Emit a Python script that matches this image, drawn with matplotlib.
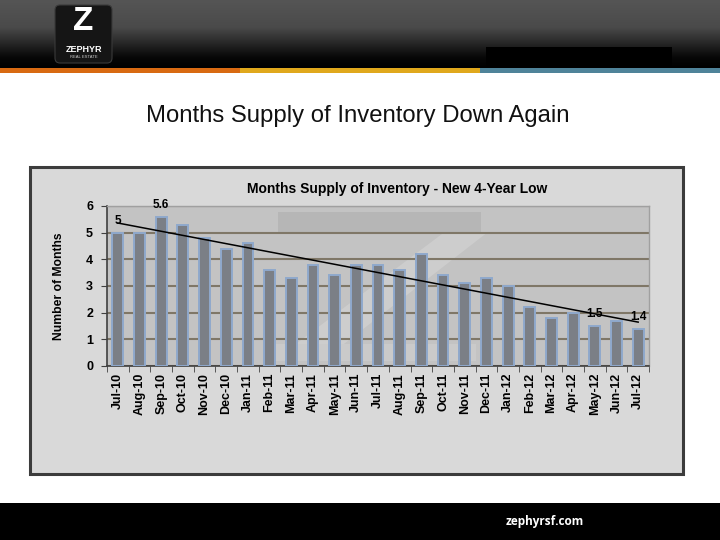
import numpy as np
import matplotlib
matplotlib.use("Agg")
import matplotlib.pyplot as plt
from matplotlib.patches import Rectangle, FancyBboxPatch, Polygon

# data
months = ['Jul-10', 'Aug-10', 'Sep-10', 'Oct-10', 'Nov-10', 'Dec-10', 'Jan-11',
          'Feb-11', 'Mar-11', 'Apr-11', 'May-11', 'Jun-11', 'Jul-11', 'Aug-11',
          'Sep-11', 'Oct-11', 'Nov-11', 'Dec-11', 'Jan-12', 'Feb-12', 'Mar-12',
          'Apr-12', 'May-12', 'Jun-12', 'Jul-12']
supply = [5.0, 5.0, 5.6, 5.3, 4.8, 4.4, 4.6, 3.6, 3.3, 3.8, 3.4, 3.8, 3.8,
          3.6, 4.2, 3.4, 3.1, 3.3, 3.0, 2.2, 1.8, 2.0, 1.5, 1.7, 1.4]
labelled = [0, 2, 22, 24]
yticks = [0, 1, 2, 3, 4, 5, 6]

plt.rcParams['font.family'] = ['Liberation Sans', 'DejaVu Sans']

fig = plt.figure(figsize=(7.2, 5.4), dpi=100)
fig.patch.set_facecolor('white')

# slide decoration, drawn in pixel coordinates
bg = fig.add_axes([0, 0, 1, 1])
bg.set_xlim(0, 720)
bg.set_ylim(540, 0)
bg.axis('off')

hdr_cmap = matplotlib.colors.LinearSegmentedColormap.from_list(
    'hdr', [(0, '#555555'), (0.4, '#4a4a4a'), (0.85, '#070707'), (1, '#000000')])
grad = np.linspace(0, 1, 100).reshape(-1, 1)
bg.imshow(grad, cmap=hdr_cmap, extent=[0, 720, 68, 0], aspect='auto', zorder=0)
bg.add_patch(Rectangle((0, 68), 240, 5, color='#d86a12', lw=0))
bg.add_patch(Rectangle((240, 68), 240, 5, color='#e0a81c', lw=0))
bg.add_patch(Rectangle((480, 68), 240, 5, color='#4f8399', lw=0))
bg.add_patch(Rectangle((486, 47), 186, 19, color='#000000', lw=0))

# logo
bg.add_patch(FancyBboxPatch((55, 5), 57, 58, boxstyle='round,pad=0,rounding_size=5',
                            facecolor='#151515', edgecolor='#3a3a3a', lw=0.8))
bg.text(83.5, 21, 'Z', color='white', fontsize=24, fontweight='bold',
        ha='center', va='center')
bg.text(83.5, 49, 'ZEPHYR', color='white', fontsize=6.5, fontweight='bold',
        ha='center', va='center')
bg.text(83.5, 57, 'REAL ESTATE', color='#cccccc', fontsize=3,
        ha='center', va='center')

bg.text(358, 116, 'Months Supply of Inventory Down Again', fontsize=17.2,
        ha='center', va='center', color='#111111')

# chart frame
bg.add_patch(Rectangle((30, 167), 653, 307, facecolor='#d9d9d9',
                       edgecolor='#3c3c3c', lw=2.2))
bg.text(397, 189, 'Months Supply of Inventory - New 4-Year Low', fontsize=10,
        fontweight='bold', ha='center', va='center')

# footer
bg.add_patch(Rectangle((0, 503), 720, 37, color='#000000', lw=0))
bg.text(545, 522, 'zephyrsf.com', color='white', fontsize=8.5, fontweight='bold',
        family=['Open Sans', 'DejaVu Sans'], ha='center', va='center')

# chart
ax = fig.add_axes([107 / 720, 1 - 366 / 540, 542 / 720, 160 / 540])
ax.set_facecolor('#c3c3c3')
ax.add_patch(Polygon([(0.315, 0.965), (0.69, 0.965), (0.69, 0.83), (0.315, 0.83)],
                     closed=True, transform=ax.transAxes, facecolor='#b6b6b6',
                     lw=0, zorder=0))
ax.add_patch(Polygon([(0.62, 0.83), (0.70, 0.83), (0.40, 0.04), (0.31, 0.04)],
                     closed=True, transform=ax.transAxes, facecolor='#d0d0d0',
                     lw=0, zorder=0, alpha=0.8))
ax.add_patch(Polygon([(0.31, 0.14), (0.68, 0.14), (0.68, 0.03), (0.31, 0.03)],
                     closed=True, transform=ax.transAxes, facecolor='#cacaca',
                     lw=0, zorder=0))

x = np.arange(len(months))
ax.bar(x, supply, width=0.5, color='#7b7f86', edgecolor='#8fa9cc', lw=1.4, zorder=3)

slope, icpt = np.polyfit(x, supply, 1)
ax.plot([x[0], x[-1]], [icpt, icpt + slope * x[-1]], color='black', lw=1.1, zorder=4)

for i in labelled:
    ax.annotate('%g' % supply[i], (x[i], supply[i]), xytext=(0, 8.5),
                textcoords='offset points', ha='center', va='center',
                fontsize=8.5, fontweight='bold', zorder=5)

ax.set_xlim(-0.5, len(months) - 0.5)
ax.set_ylim(0, 6)
ax.set_yticks(yticks)
ax.yaxis.grid(True, color='#7f7767', lw=1.5, zorder=1)
ax.set_axisbelow(True)
ax.set_xticks(x)
ax.set_xticklabels(months, rotation=90, fontsize=9, fontweight='bold')
ax.tick_params(axis='x', length=0, pad=5)
ax.set_xticks(np.arange(-0.5, len(months)), minor=True)
ax.tick_params(axis='x', which='minor', length=4, color='#404040', direction='out')
ax.tick_params(axis='y', length=4, color='#404040', labelsize=9, pad=6)
for t in ax.get_yticklabels():
    t.set_fontweight('bold')
for s in ['left', 'bottom']:
    ax.spines[s].set_color('#404040')
    ax.spines[s].set_linewidth(1.2)
for s in ['top', 'right']:
    ax.spines[s].set_color('#a0a0a0')
    ax.spines[s].set_linewidth(1.0)
ax.set_ylabel('Number of Months', fontsize=8.7, fontweight='bold', labelpad=15)

fig.savefig('out.png', dpi=100)
